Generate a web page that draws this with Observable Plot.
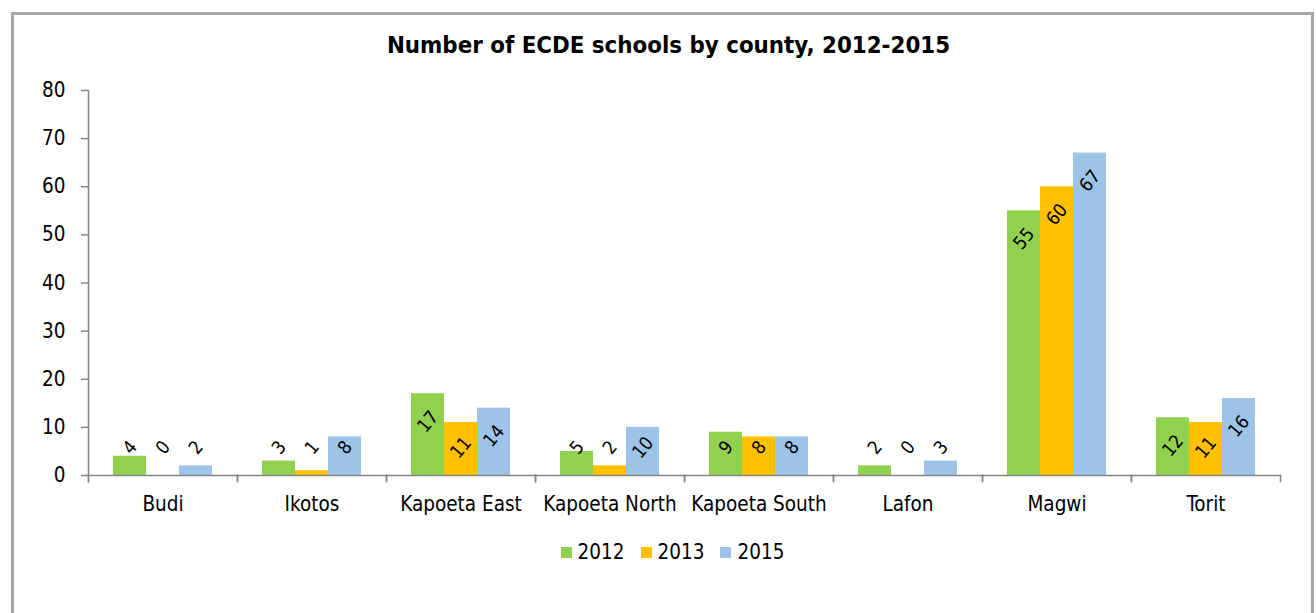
<!DOCTYPE html>
<html>
<head>
<meta charset="utf-8">
<script src="https://cdn.jsdelivr.net/npm/d3@7"></script>
<script src="https://cdn.jsdelivr.net/npm/@observablehq/plot@0.6"></script>
<style>
  html, body { margin: 0; padding: 0; background: #fff; }
  body { font-family: "DejaVu Sans Condensed", "DejaVu Sans", sans-serif; color: #000; }
  #wrap { position: relative; width: 1316px; height: 613px; overflow: hidden; }
  #border { position: absolute; left: 11px; top: 12px; width: 1303px; height: 700px;
            border: 3px solid #a6a6a6; box-sizing: border-box; }
  #title { position: absolute; left: 0; width: 1337px; top: 31px; text-align: center;
           font-weight: bold; font-size: 23.8px; white-space: nowrap; }
  #chart { position: absolute; left: 0; top: 0; }
  #legend { position: absolute; left: 0; width: 1345px; top: 540px; display: flex;
            justify-content: center; font-size: 20.5px; }
  .item { display: flex; align-items: center; margin: 0 8px; }
  .sw { width: 11px; height: 11px; margin-right: 6px; }
</style>
</head>
<body>
<div id="wrap">
  <div id="border"></div>
  <div id="title">Number of ECDE schools by county, 2012-2015</div>
  <div id="chart"></div>
  <div id="legend"></div>
</div>
<script>
const counties = ["Budi", "Ikotos", "Kapoeta East", "Kapoeta North", "Kapoeta South", "Lafon", "Magwi", "Torit"];
const years = ["2012", "2013", "2015"];
const v2012 = [4, 3, 17, 5, 9, 2, 55, 12];
const v2013 = [0, 1, 11, 2, 8, 0, 60, 11];
const v2015 = [2, 8, 14, 10, 8, 3, 67, 16];
const colors = ["#92d050", "#ffc000", "#9dc3e6"];
const yTicks = [0, 10, 20, 30, 40, 50, 60, 70, 80];

const series = [v2012, v2013, v2015];
const rows = [];
counties.forEach((c, i) => {
  series.forEach((arr, k) => rows.push({county: c, year: years[k], value: arr[i]}));
});

const FONT = '"DejaVu Sans Condensed", "DejaVu Sans", sans-serif';
const AXIS = "#868686";

const chart = Plot.plot({
  width: 1316,
  height: 520,
  marginLeft: 86,
  marginRight: 34,
  marginTop: 90,
  marginBottom: 45,
  style: {fontFamily: FONT, fontSize: "20.5px", color: "#000", background: "transparent", overflow: "visible"},
  fx: {domain: counties, paddingInner: 0, paddingOuter: 0, label: null},
  x: {domain: years, paddingInner: 0, paddingOuter: 0.743, axis: null},
  y: {domain: [0, 80]},
  color: {domain: years, range: colors},
  marks: [
    Plot.barY(rows, {fx: "county", x: "year", y: "value", fill: "year"}),
    Plot.text(rows, {
      fx: "county", x: "year",
      y: d => Math.max(d.value - 5.8, 5.8),
      text: d => String(d.value),
      rotate: -50, fontSize: 18.5, fill: "#000"
    }),
    Plot.frame({anchor: "bottom", stroke: AXIS, strokeWidth: 1.5}),
    Plot.frame({anchor: "left", stroke: AXIS, strokeWidth: 1.5, insetTop: 385, insetBottom: -6}),
    Plot.frame({anchor: "right", stroke: AXIS, strokeWidth: 1.5, insetTop: 385, insetBottom: -6}),
    Plot.frame({anchor: "left", facetAnchor: "left", stroke: AXIS, strokeWidth: 1.5, insetBottom: -6}),
    Plot.axisY({ticks: yTicks, tickSize: 7, tickPadding: 16, fontSize: 20.5, stroke: AXIS, fill: "#000",
                strokeWidth: 1.5, label: null, facetAnchor: "left"}),
    Plot.axisFx({anchor: "bottom", tickSize: 0, tickPadding: 21, label: null, fontSize: 20.5, fill: "#000"})
  ]
});
document.getElementById("chart").appendChild(chart);

const legend = document.getElementById("legend");
years.forEach((y, i) => {
  const it = document.createElement("div");
  it.className = "item";
  const sw = document.createElement("div");
  sw.className = "sw";
  sw.style.background = colors[i];
  const t = document.createElement("span");
  t.textContent = y;
  it.appendChild(sw);
  it.appendChild(t);
  legend.appendChild(it);
});
</script>
</body>
</html>
